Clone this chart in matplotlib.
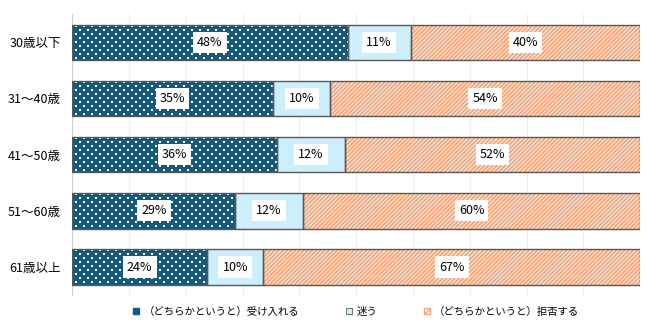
import matplotlib.pyplot as plt
from matplotlib.patches import Patch
import numpy as np

plt.rcParams['font.family'] = ['Noto Sans CJK JP', 'DejaVu Sans']
plt.rcParams['hatch.linewidth'] = 1.5

categories = ["30歳以下", "31～40歳", "41～50歳", "51～60歳", "61歳以上"]
accept = [48, 35, 36, 29, 24]
unsure = [11, 10, 12, 12, 10]
refuse = [40, 54, 52, 60, 67]
series_names = ["（どちらかというと）受け入れる", "迷う", "（どちらかというと）拒否する"]

dark = "#155a7c"
light = "#cdeefb"
orange = "#f4a77c"
edge = "#595959"

fig = plt.figure(figsize=(6.5, 3.28), dpi=100)
ax = fig.add_axes([0.111, 0.10, 0.874, 0.857])
ax.set_xlim(0, 100)
ax.set_ylim(len(categories) - 0.5, -0.5)

# dot texture grid (staggered, ~8px x 4px) in data units
px_x = 100 / (0.874 * 650)
px_y = len(categories) / (0.857 * 328)
gx, gy = [], []
for i, yy in enumerate(np.arange(-0.5, len(categories) - 0.5, 4 * px_y)):
    xs = np.arange(0, 100, 8 * px_x) + (4 * px_x if i % 2 else 0)
    gx.extend(xs)
    gy.extend([yy] * len(xs))

y = list(range(len(categories)))
h = 0.63
tot = [a + b + c for a, b, c in zip(accept, unsure, refuse)]
left = [0.0] * len(categories)
for vals, kind in [(accept, "dots"), (unsure, "plain"), (refuse, "hatch")]:
    w = [v / t * 100 for v, t in zip(vals, tot)]
    if kind == "dots":
        bars = ax.barh(y, w, h, left=left, color=dark, linewidth=0, zorder=2)
        for b in bars:
            sc = ax.scatter(gx, gy, s=0.55, marker="s", color="white",
                            linewidths=0, zorder=3)
            sc.set_clip_path(b)
    elif kind == "plain":
        ax.barh(y, w, h, left=left, color=light, linewidth=0, zorder=2)
    else:
        ax.barh(y, w, h, left=left, color="white", linewidth=0, zorder=2)
        ax.barh(y, w, h, left=left, facecolor="none", edgecolor=orange,
                hatch="////////", linewidth=0, zorder=3)
    ax.barh(y, w, h, left=left, facecolor="none", edgecolor=edge,
            linewidth=1.0, zorder=4)
    for yi, l, wi, v in zip(y, left, w, vals):
        ax.text(l + wi / 2, yi, f"{v}%", ha="center", va="center", fontsize=9,
                zorder=5, bbox=dict(facecolor="white", edgecolor="none", pad=3))
    left = [l + wi for l, wi in zip(left, w)]

ax.set_yticks(y)
ax.set_yticklabels(categories, fontsize=9)
ax.set_xticks(range(0, 101, 10))
ax.set_xticklabels([])
ax.tick_params(length=0)
ax.tick_params(axis="y", pad=8)
ax.grid(axis="x", color="#ececec", linewidth=0.8, zorder=0)
for s in ["top", "right", "bottom"]:
    ax.spines[s].set_visible(False)
ax.spines["left"].set_color("#d0d0d0")

plt.rcParams['hatch.linewidth'] = 1.0
handles = [
    Patch(facecolor=dark, edgecolor=dark),
    Patch(facecolor=light, edgecolor=edge, linewidth=0.6),
    Patch(facecolor="white", edgecolor=orange, hatch="//////"),
]
fig.legend(handles, series_names, loc="center", bbox_to_anchor=(0.548, 0.05),
           ncol=3, frameon=False, fontsize=7.5, handlelength=0.6, handleheight=0.6,
           columnspacing=4.5, handletextpad=0.4)

fig.savefig("out.png", dpi=100)
